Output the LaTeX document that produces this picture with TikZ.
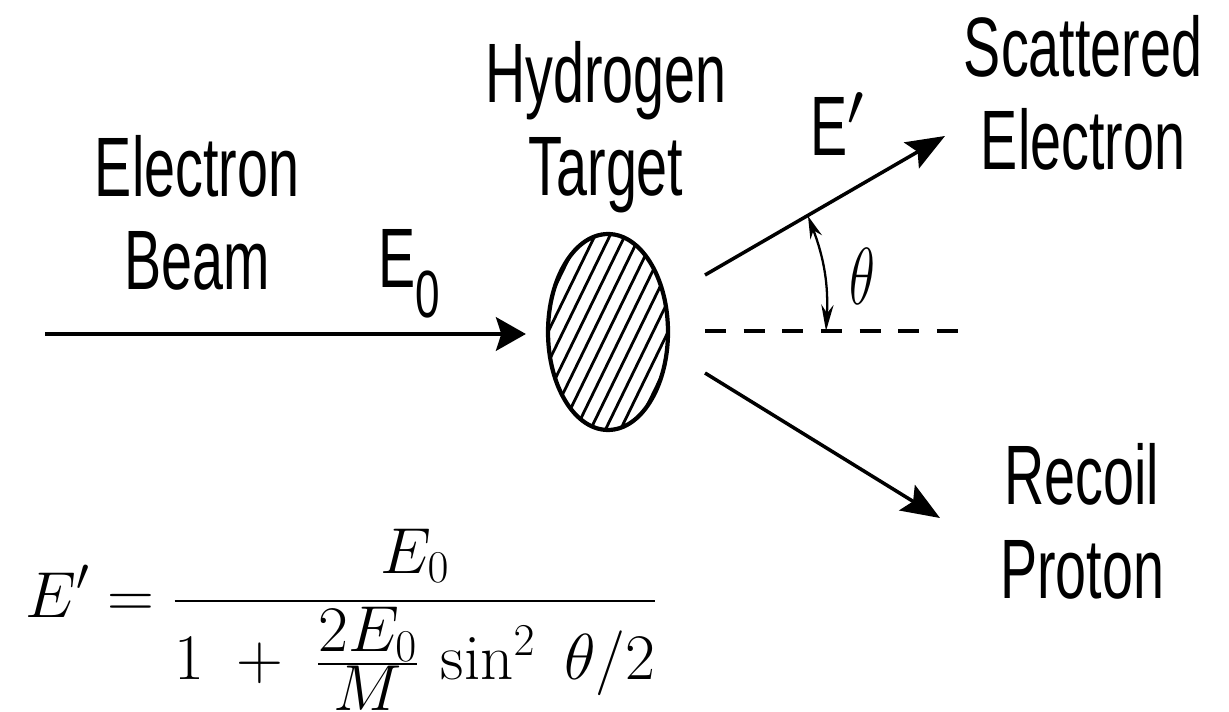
\RequirePackage{fix-cm}
\documentclass[tikz,border=0pt]{standalone}
\usepackage{amsmath}
\usepackage{fontspec}
\newfontfamily\labelfont[FakeStretch=0.66]{Liberation Sans}
\usetikzlibrary{shapes.geometric,arrows.meta,positioning}

\begin{document}
\begin{tikzpicture}[
    x=0.02cm, y=-0.02cm,
    every node/.style={inner sep=0pt, font=\labelfont\fontsize{48}{53}\selectfont},
    twoline/.style={align=center, anchor=base},
    ray/.style={line width=2pt, -{Stealth[length=22pt, width=17pt, inset=4pt]}},
    beam/.style={line width=2.6pt, -{Stealth[length=17pt, width=19pt, inset=3pt]}, shorten >=0.4cm},
    angarrow/.style={line width=1.3pt, {Stealth[length=13pt, width=7pt]}-{Stealth[length=15pt, width=7pt]}},
    axisline/.style={line width=2.3pt, dash pattern=on 12pt off 10pt},
    hatch/.style={line width=1.6pt}
]
\useasboundingbox (0,0) rectangle (1229,712);

% target with hatching
\node[ellipse, draw, line width=2.4pt, minimum width=2.4cm, minimum height=3.92cm,
      path picture={
        \foreach \k in {-8,...,8}
          \draw[hatch] ([shift={(\k*15,0)}]path picture bounding box.center) ++(-95,195) -- ++(190,-390);
      }] (target) at (608,332) {};

% labels
\node[twoline] (beamlabel) at (197,290) {Electron\\Beam};
\node[twoline] (targetlabel) at (606,196) {Hydrogen\\Target};
\node[twoline] (scatlabel) at (1083,170) {Scattered\\Electron};
\node[twoline] (recoillabel) at (1082,598) {Recoil\\Proton};
\node[anchor=base west] (ezero) at (378,288) {E\raisebox{-17pt}{\fontsize{38}{38}\selectfont 0}};
\node[anchor=base west] (eprime) at (810,156) {E$'$};
\node[font=\fontsize{46}{46}\selectfont] (theta) at (862,276) {\scalebox{0.66}[1]{$\theta$}};

% formula
\node[anchor=base west, font={\rmfamily\fontsize{37}{44}\selectfont}] (formula) at (25,617)
  {$\displaystyle E' = \frac{E_0}{1 \;+\; \tfrac{\textstyle 2E_0}{\textstyle M}\,\sin^2\;\theta/2}$};

% beam and outgoing particles
\coordinate (beamstart) at (45,334);
\coordinate (scatstart) at (705,275);
\coordinate (scatend) at (945,136);
\coordinate (recoilstart) at (705,373);
\coordinate (recoilend) at (940,518);
\coordinate (axisstart) at (705,331);
\coordinate (axisend) at (960,331);
\coordinate (arcA) at (808,216);
\coordinate (arcB) at (826,331);

\draw[beam] (beamstart) -- (beamstart -| target.west);
\draw[ray] (scatstart) -- (scatend);
\draw[ray] (recoilstart) -- (recoilend);
\draw[axisline] (axisstart) -- (axisend);
\draw[angarrow] (arcA) to[bend left=12] (arcB);
\end{tikzpicture}
\end{document}
